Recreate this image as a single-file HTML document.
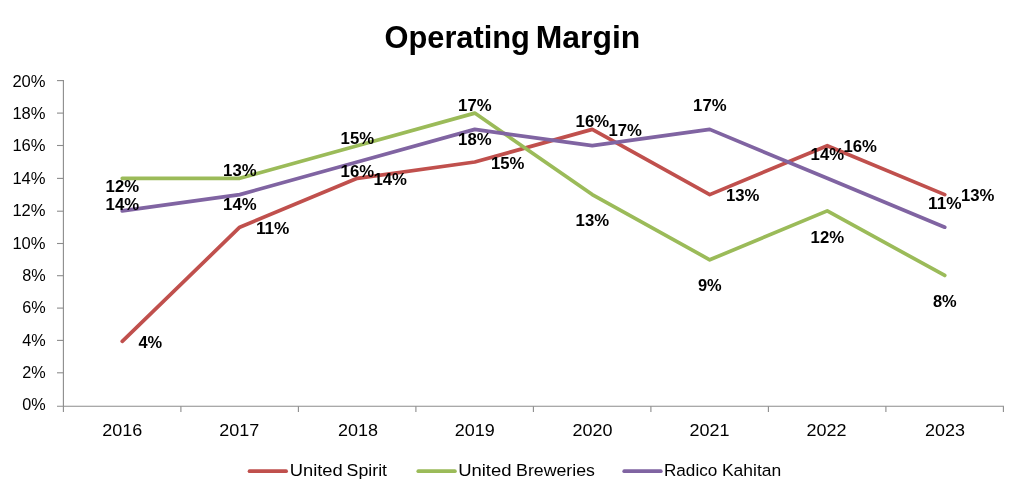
<!DOCTYPE html>
<html lang="en"><head><meta charset="utf-8"><title>Operating Margin</title>
<style>html,body{margin:0;padding:0;background:#fff}svg{display:block}</style></head>
<body>
<svg width="1024" height="500" viewBox="0 0 1024 500">
<rect width="1024" height="500" fill="#fff"/>
<g stroke="#8c8c8c" stroke-width="1.1" fill="none">
<line x1="63.4" y1="80.1" x2="63.4" y2="411.9"/>
<line x1="57.0" y1="406.3" x2="1003.9" y2="406.3"/>
<line x1="57.0" y1="372.8" x2="63.4" y2="372.8"/>
<line x1="57.0" y1="340.4" x2="63.4" y2="340.4"/>
<line x1="57.0" y1="308.1" x2="63.4" y2="308.1"/>
<line x1="57.0" y1="275.7" x2="63.4" y2="275.7"/>
<line x1="57.0" y1="243.5" x2="63.4" y2="243.5"/>
<line x1="57.0" y1="211.2" x2="63.4" y2="211.2"/>
<line x1="57.0" y1="178.4" x2="63.4" y2="178.4"/>
<line x1="57.0" y1="145.5" x2="63.4" y2="145.5"/>
<line x1="57.0" y1="113.1" x2="63.4" y2="113.1"/>
<line x1="57.0" y1="80.6" x2="63.4" y2="80.6"/>
<line x1="180.90" y1="406.3" x2="180.90" y2="411.9"/>
<line x1="298.40" y1="406.3" x2="298.40" y2="411.9"/>
<line x1="415.90" y1="406.3" x2="415.90" y2="411.9"/>
<line x1="533.40" y1="406.3" x2="533.40" y2="411.9"/>
<line x1="650.90" y1="406.3" x2="650.90" y2="411.9"/>
<line x1="768.40" y1="406.3" x2="768.40" y2="411.9"/>
<line x1="885.90" y1="406.3" x2="885.90" y2="411.9"/>
<line x1="1003.40" y1="406.3" x2="1003.40" y2="411.9"/>
</g>
<polyline points="122.25,341.30 239.75,227.20 357.25,178.30 474.75,162.00 592.25,129.40 709.75,194.60 827.25,145.70 944.75,194.60" fill="none" stroke="#C0504D" stroke-width="3.7" stroke-linecap="round" stroke-linejoin="round"/>
<polyline points="122.25,178.30 239.75,178.30 357.25,145.70 474.75,113.10 592.25,194.60 709.75,259.80 827.25,210.90 944.75,275.45" fill="none" stroke="#9BBB59" stroke-width="3.7" stroke-linecap="round" stroke-linejoin="round"/>
<polyline points="122.25,210.90 239.75,194.60 357.25,162.00 474.75,129.40 592.25,145.70 709.75,129.40 827.25,178.30 944.75,227.20" fill="none" stroke="#8064A2" stroke-width="3.7" stroke-linecap="round" stroke-linejoin="round"/>
<g font-family="'Liberation Sans', sans-serif" fill="#000">
<text y="47.8" font-size="32.0" font-weight="bold"><tspan x="384.5" textLength="145.4" lengthAdjust="spacingAndGlyphs">Operating</tspan> <tspan x="535.8" textLength="104.5" lengthAdjust="spacingAndGlyphs">Margin</tspan></text>
<text x="45.60" y="410.30" font-size="17.2" text-anchor="end" textLength="23.46" lengthAdjust="spacingAndGlyphs">0%</text>
<text x="45.60" y="377.94" font-size="17.2" text-anchor="end" textLength="23.46" lengthAdjust="spacingAndGlyphs">2%</text>
<text x="45.60" y="345.58" font-size="17.2" text-anchor="end" textLength="23.46" lengthAdjust="spacingAndGlyphs">4%</text>
<text x="45.60" y="313.22" font-size="17.2" text-anchor="end" textLength="23.46" lengthAdjust="spacingAndGlyphs">6%</text>
<text x="45.60" y="280.86" font-size="17.2" text-anchor="end" textLength="23.46" lengthAdjust="spacingAndGlyphs">8%</text>
<text x="45.60" y="248.50" font-size="17.2" text-anchor="end" textLength="33.20" lengthAdjust="spacingAndGlyphs">10%</text>
<text x="45.60" y="216.14" font-size="17.2" text-anchor="end" textLength="33.20" lengthAdjust="spacingAndGlyphs">12%</text>
<text x="45.60" y="183.78" font-size="17.2" text-anchor="end" textLength="33.20" lengthAdjust="spacingAndGlyphs">14%</text>
<text x="45.60" y="151.42" font-size="17.2" text-anchor="end" textLength="33.20" lengthAdjust="spacingAndGlyphs">16%</text>
<text x="45.60" y="119.06" font-size="17.2" text-anchor="end" textLength="33.20" lengthAdjust="spacingAndGlyphs">18%</text>
<text x="45.60" y="86.70" font-size="17.2" text-anchor="end" textLength="33.20" lengthAdjust="spacingAndGlyphs">20%</text>
<text x="122.35" y="436.30" font-size="17.2" text-anchor="middle" textLength="40.00" lengthAdjust="spacingAndGlyphs">2016</text>
<text x="239.15" y="436.30" font-size="17.2" text-anchor="middle" textLength="40.00" lengthAdjust="spacingAndGlyphs">2017</text>
<text x="358.00" y="436.30" font-size="17.2" text-anchor="middle" textLength="40.00" lengthAdjust="spacingAndGlyphs">2018</text>
<text x="474.80" y="436.30" font-size="17.2" text-anchor="middle" textLength="40.00" lengthAdjust="spacingAndGlyphs">2019</text>
<text x="592.40" y="436.30" font-size="17.2" text-anchor="middle" textLength="40.00" lengthAdjust="spacingAndGlyphs">2020</text>
<text x="709.50" y="436.30" font-size="17.2" text-anchor="middle" textLength="40.00" lengthAdjust="spacingAndGlyphs">2021</text>
<text x="826.50" y="436.30" font-size="17.2" text-anchor="middle" textLength="40.00" lengthAdjust="spacingAndGlyphs">2022</text>
<text x="944.90" y="436.30" font-size="17.2" text-anchor="middle" textLength="40.00" lengthAdjust="spacingAndGlyphs">2023</text>
<text x="122.35" y="192.40" font-size="17.2" text-anchor="middle" font-weight="bold" textLength="33.47" lengthAdjust="spacingAndGlyphs">12%</text>
<text x="122.35" y="210.40" font-size="17.2" text-anchor="middle" font-weight="bold" textLength="33.47" lengthAdjust="spacingAndGlyphs">14%</text>
<text x="138.45" y="347.80" font-size="17.2" font-weight="bold" textLength="23.73" lengthAdjust="spacingAndGlyphs">4%</text>
<text x="239.85" y="176.10" font-size="17.2" text-anchor="middle" font-weight="bold" textLength="33.47" lengthAdjust="spacingAndGlyphs">13%</text>
<text x="239.85" y="210.40" font-size="17.2" text-anchor="middle" font-weight="bold" textLength="33.47" lengthAdjust="spacingAndGlyphs">14%</text>
<text x="255.95" y="233.70" font-size="17.2" font-weight="bold" textLength="33.47" lengthAdjust="spacingAndGlyphs">11%</text>
<text x="357.35" y="143.50" font-size="17.2" text-anchor="middle" font-weight="bold" textLength="33.47" lengthAdjust="spacingAndGlyphs">15%</text>
<text x="357.35" y="177.20" font-size="17.2" text-anchor="middle" font-weight="bold" textLength="33.47" lengthAdjust="spacingAndGlyphs">16%</text>
<text x="373.45" y="184.80" font-size="17.2" font-weight="bold" textLength="33.47" lengthAdjust="spacingAndGlyphs">14%</text>
<text x="474.85" y="110.90" font-size="17.2" text-anchor="middle" font-weight="bold" textLength="33.47" lengthAdjust="spacingAndGlyphs">17%</text>
<text x="474.85" y="144.60" font-size="17.2" text-anchor="middle" font-weight="bold" textLength="33.47" lengthAdjust="spacingAndGlyphs">18%</text>
<text x="490.95" y="168.50" font-size="17.2" font-weight="bold" textLength="33.47" lengthAdjust="spacingAndGlyphs">15%</text>
<text x="592.35" y="127.20" font-size="17.2" text-anchor="middle" font-weight="bold" textLength="33.47" lengthAdjust="spacingAndGlyphs">16%</text>
<text x="592.35" y="226.00" font-size="17.2" text-anchor="middle" font-weight="bold" textLength="33.47" lengthAdjust="spacingAndGlyphs">13%</text>
<text x="608.45" y="135.90" font-size="17.2" font-weight="bold" textLength="33.47" lengthAdjust="spacingAndGlyphs">17%</text>
<text x="709.85" y="110.90" font-size="17.2" text-anchor="middle" font-weight="bold" textLength="33.47" lengthAdjust="spacingAndGlyphs">17%</text>
<text x="709.85" y="291.00" font-size="17.2" text-anchor="middle" font-weight="bold" textLength="23.73" lengthAdjust="spacingAndGlyphs">9%</text>
<text x="725.95" y="201.10" font-size="17.2" font-weight="bold" textLength="33.47" lengthAdjust="spacingAndGlyphs">13%</text>
<text x="827.35" y="159.80" font-size="17.2" text-anchor="middle" font-weight="bold" textLength="33.47" lengthAdjust="spacingAndGlyphs">14%</text>
<text x="827.35" y="242.50" font-size="17.2" text-anchor="middle" font-weight="bold" textLength="33.47" lengthAdjust="spacingAndGlyphs">12%</text>
<text x="843.45" y="152.20" font-size="17.2" font-weight="bold" textLength="33.47" lengthAdjust="spacingAndGlyphs">16%</text>
<text x="944.85" y="208.70" font-size="17.2" text-anchor="middle" font-weight="bold" textLength="33.47" lengthAdjust="spacingAndGlyphs">11%</text>
<text x="944.85" y="306.85" font-size="17.2" text-anchor="middle" font-weight="bold" textLength="23.73" lengthAdjust="spacingAndGlyphs">8%</text>
<text x="960.95" y="201.10" font-size="17.2" font-weight="bold" textLength="33.47" lengthAdjust="spacingAndGlyphs">13%</text>
<line x1="249.5" y1="471.2" x2="286.1" y2="471.2" stroke="#C0504D" stroke-width="3.7" stroke-linecap="round"/>
<text y="476.4" font-size="17.2"><tspan x="289.78" textLength="52.98" lengthAdjust="spacingAndGlyphs">United</tspan> <tspan x="346.60" textLength="40.45" lengthAdjust="spacingAndGlyphs">Spirit</tspan></text>
<line x1="418.3" y1="471.2" x2="454.90000000000003" y2="471.2" stroke="#9BBB59" stroke-width="3.7" stroke-linecap="round"/>
<text y="476.4" font-size="17.2"><tspan x="458.17" textLength="53.40" lengthAdjust="spacingAndGlyphs">United</tspan> <tspan x="516.14" textLength="78.80" lengthAdjust="spacingAndGlyphs">Breweries</tspan></text>
<line x1="624.2" y1="471.2" x2="660.8000000000001" y2="471.2" stroke="#8064A2" stroke-width="3.7" stroke-linecap="round"/>
<text y="476.4" font-size="17.2"><tspan x="663.99" textLength="53.30" lengthAdjust="spacingAndGlyphs">Radico</tspan> <tspan x="721.96" textLength="59.31" lengthAdjust="spacingAndGlyphs">Kahitan</tspan></text>
</g>
</svg>
</body></html>
